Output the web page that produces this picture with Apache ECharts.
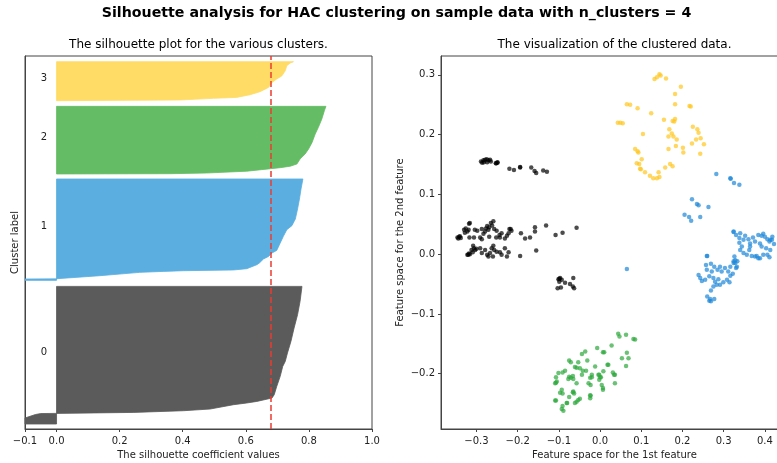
<!DOCTYPE html>
<html><head><meta charset="utf-8">
<script src="https://cdn.jsdelivr.net/npm/echarts@6/dist/echarts.min.js"></script>
<style>html,body{margin:0;padding:0;background:#fff}#c{width:777px;height:463px}</style>
</head><body><div id="c"></div>
<script>
// ---------- data ----------
const mainTitle = 'Silhouette analysis for HAC clustering on sample data with n_clusters = 4';
const leftTitle = 'The silhouette plot for the various clusters.';
const rightTitle = 'The visualization of the clustered data.';
const clusterLabels = ['0', '1', '2', '3'];
const avgSilhouette = 0.683;
const silXTicks = [-0.1, 0.0, 0.2, 0.4, 0.6, 0.8, 1.0];
const featXTicks = [-0.3, -0.2, -0.1, 0.0, 0.1, 0.2, 0.3, 0.4];
const featYTicks = [-0.2, -0.1, 0.0, 0.1, 0.2, 0.3];
const silYMax = 657;

// sorted silhouette profile per cluster: [silhouette value, sample position]
const sil0 = [[-0.1,8.8],[-0.1,19.4],[-0.067,25.5],[-0.05,27.2],[0.0,27.5],[0.243,29.2],[0.402,32.2],[0.487,35.2],[0.561,42.8],[0.603,45.8],[0.635,48.6],[0.683,54.6],[0.690,60.4],[0.698,75.0],[0.709,92.7],[0.717,110.3],[0.725,119.1],[0.732,133.9],[0.743,154.3],[0.753,177.9],[0.764,201.3],[0.772,224.8],[0.778,251.2]];
const sil1 = [[-0.1,261.8],[-0.1,264.2],[0.0,264.7],[0.137,270.0],[0.264,275.9],[0.338,277.6],[0.402,278.8],[0.561,280.1],[0.603,282.4],[0.635,289.4],[0.643,292.4],[0.656,299.5],[0.672,304.0],[0.683,310.0],[0.698,314.6],[0.709,327.6],[0.719,339.3],[0.730,351.1],[0.746,358.1],[0.757,369.9],[0.764,387.5],[0.770,405.1],[0.775,422.8],[0.781,440.4]];
const sil2 = [[0.0,449.2],[0.36,449.7],[0.476,450.9],[0.603,454.1],[0.709,460.3],[0.741,462.9],[0.762,466.8],[0.772,475.6],[0.788,484.4],[0.799,493.2],[0.810,504.8],[0.820,519.6],[0.830,531.3],[0.841,546.1],[0.849,560.7],[0.854,568.3]];
const sil3 = [[0.0,578.3],[0.391,579.5],[0.497,582.4],[0.571,584.1],[0.614,588.9],[0.645,594.2],[0.672,601.7],[0.683,610.5],[0.698,616.5],[0.714,621.9],[0.725,631.1],[0.730,640.0],[0.741,644.7],[0.751,647.0]];

// scatter points per cluster: [1st feature, 2nd feature]
const pts0 = [[-0.289,0.155],[-0.283,0.157],[-0.279,0.158],[-0.275,0.159],[-0.271,0.157],[-0.267,0.158],[-0.274,0.154],[-0.282,0.154],[-0.286,0.153],[-0.265,0.155],[-0.252,0.152],[-0.249,0.154],[-0.253,0.152],[-0.249,0.153],[-0.220,0.143],[-0.209,0.141],[-0.194,0.145],[-0.194,0.146],[-0.167,0.145],[-0.159,0.139],[-0.155,0.136],[-0.138,0.140],[-0.129,0.138],
[-0.346,0.028],[-0.342,0.029],[-0.338,0.027],[-0.344,0.026],[-0.340,0.030],[-0.330,0.041],[-0.326,0.043],[-0.322,0.038],[-0.328,0.036],[-0.318,0.051],[-0.316,0.052],[-0.319,0.041],[-0.304,0.041],[-0.298,0.039],[-0.317,0.028],[-0.306,0.028],[-0.291,0.028],[-0.287,0.042],[-0.277,0.043],[-0.274,0.047],[-0.269,0.045],[-0.271,0.041],[-0.279,0.038],[-0.283,0.034],[-0.287,0.025],[-0.265,0.052],[-0.259,0.055],[-0.262,0.048],[-0.257,0.042],[-0.251,0.039],[-0.252,0.028],[-0.269,0.029],[-0.243,0.028],[-0.239,0.035],[-0.244,0.032],[-0.226,0.031],[-0.220,0.042],[-0.217,0.042],[-0.215,0.039],[-0.192,0.035],[-0.182,0.026],[-0.170,0.028],[-0.158,0.038],[-0.158,0.045],[-0.131,0.048],[-0.108,0.032],[-0.091,0.036],[-0.057,0.044],[-0.222,0.035],[-0.231,0.026],
[-0.320,-0.001],[-0.316,0.000],[-0.312,0.007],[-0.308,0.014],[-0.306,0.010],[-0.303,0.007],[-0.300,0.009],[-0.309,0.003],[-0.291,0.010],[-0.287,0.002],[-0.279,0.007],[-0.274,-0.001],[-0.267,0.002],[-0.263,0.010],[-0.259,0.014],[-0.257,0.007],[-0.271,-0.004],[-0.260,-0.004],[-0.251,0.004],[-0.243,0.003],[-0.239,-0.001],[-0.226,-0.004],[-0.222,0.003],[-0.231,0.010],[-0.194,-0.003],[-0.155,0.006],[-0.322,-0.001],[-0.318,0.001],
[-0.101,-0.042],[-0.097,-0.040],[-0.093,-0.043],[-0.099,-0.046],[-0.103,-0.057],[-0.095,-0.056],[-0.085,-0.048],[-0.073,-0.050],[-0.065,-0.040],[-0.063,-0.057],[-0.066,-0.054],[-0.099,-0.041]];
const pts1 = [[0.282,0.134],[0.316,0.127],[0.317,0.126],[0.325,0.119],[0.338,0.116],[0.223,0.092],[0.235,0.084],[0.239,0.082],[0.263,0.079],[0.205,0.066],[0.216,0.062],[0.221,0.056],[0.243,0.062],[0.260,-0.003],[0.324,0.037],[0.065,-0.025],
[0.324,0.038],[0.330,0.032],[0.340,0.035],[0.338,0.027],[0.348,0.024],[0.352,0.031],[0.360,0.025],[0.364,0.018],[0.371,0.028],[0.376,0.021],[0.384,0.032],[0.392,0.031],[0.396,0.034],[0.400,0.029],[0.406,0.025],[0.411,0.021],[0.388,0.018],[0.392,0.013],[0.403,0.010],[0.413,0.007],[0.406,-0.001],[0.411,-0.005],[0.380,-0.003],[0.384,-0.007],[0.376,-0.004],[0.388,-0.007],[0.368,-0.003],[0.356,-0.001],[0.348,0.002],[0.340,0.007],[0.344,0.013],[0.362,0.007],[0.364,0.013],[0.338,0.019],[0.396,-0.001],[0.326,-0.004],[0.328,-0.010],[0.328,-0.015],[0.324,-0.012],[0.333,-0.012],[0.332,-0.021],[0.413,0.024],[0.417,0.024],[0.422,0.017],[0.418,0.029],
[0.259,-0.003],[0.257,-0.018],[0.269,-0.016],[0.259,-0.026],[0.271,-0.029],[0.277,-0.021],[0.285,-0.026],[0.291,-0.021],[0.295,-0.029],[0.303,-0.023],[0.311,-0.029],[0.316,-0.021],[0.324,-0.015],[0.330,-0.023],[0.239,-0.035],[0.243,-0.040],[0.247,-0.045],[0.255,-0.043],[0.265,-0.037],[0.275,-0.040],[0.279,-0.046],[0.287,-0.042],[0.291,-0.051],[0.299,-0.047],[0.308,-0.043],[0.316,-0.036],[0.322,-0.033],[0.314,-0.047],[0.283,-0.051],[0.275,-0.054],[0.269,-0.061],[0.260,-0.071],[0.265,-0.078],[0.269,-0.079],[0.277,-0.075],[0.267,-0.075]];
const pts2 = [[0.044,-0.133],[0.047,-0.138],[0.028,-0.153],[-0.007,-0.157],[0.007,-0.164],[0.010,-0.164],[-0.036,-0.163],[-0.044,-0.167],[-0.031,-0.178],[-0.075,-0.178],[-0.071,-0.181],[-0.053,-0.181],[-0.061,-0.189],[-0.057,-0.190],[-0.049,-0.191],[-0.042,-0.195],[-0.034,-0.195],[-0.085,-0.195],[-0.091,-0.198],[-0.101,-0.199],[-0.107,-0.206],[-0.105,-0.213],[-0.109,-0.216],[-0.075,-0.205],[-0.071,-0.207],[-0.066,-0.204],[-0.077,-0.209],[-0.065,-0.209],[-0.057,-0.216],[-0.044,-0.202],[-0.024,-0.207],[-0.020,-0.202],[-0.012,-0.188],[-0.002,-0.202],[0.002,-0.206],[-0.002,-0.210],[0.008,-0.196],[0.018,-0.185],[0.031,-0.198],[0.036,-0.202],[0.036,-0.216],[-0.028,-0.216],[-0.023,-0.219],[-0.093,-0.227],[-0.097,-0.232],[-0.107,-0.245],[-0.091,-0.233],[-0.065,-0.230],[-0.066,-0.231],[-0.063,-0.233],[-0.075,-0.239],[-0.080,-0.249],[-0.091,-0.254],[-0.093,-0.259],[-0.089,-0.262],[-0.057,-0.247],[-0.053,-0.244],[-0.049,-0.242],[-0.061,-0.249],[-0.023,-0.237],[-0.024,-0.241],[0.007,-0.227],[0.007,-0.224],
[0.063,-0.135],[0.081,-0.142],[0.085,-0.143],[0.065,-0.165],[0.053,-0.174],[0.069,-0.174],[0.063,-0.187],[0.020,-0.185],[0.034,-0.202],[0.004,-0.219],[0.000,-0.206],[-0.004,-0.202],[-0.020,-0.206],[-0.024,-0.236],[-0.107,-0.215],[-0.109,-0.245],[-0.081,-0.249]];
const pts3 = [[0.043,0.220],[0.049,0.220],[0.055,0.219],[0.065,0.251],[0.073,0.250],[0.091,0.244],[0.104,0.201],[0.085,0.176],[0.091,0.172],[0.093,0.170],[0.089,0.152],[0.095,0.151],[0.101,0.159],[0.097,0.143],[0.099,0.142],[0.109,0.137],[0.121,0.131],[0.129,0.127],[0.138,0.127],[0.144,0.129],[0.142,0.137],[0.158,0.145],[0.170,0.151],[0.176,0.147],[0.124,0.236],[0.132,0.293],[0.138,0.296],[0.144,0.301],[0.147,0.299],[0.160,0.294],[0.196,0.280],[0.182,0.268],[0.182,0.251],[0.155,0.225],[0.182,0.226],[0.180,0.222],[0.217,0.248],[0.220,0.247],[0.168,0.209],[0.174,0.202],[0.166,0.197],[0.178,0.197],[0.186,0.192],[0.184,0.181],[0.166,0.176],[0.201,0.178],[0.202,0.170],[0.225,0.213],[0.236,0.209],[0.239,0.203],[0.244,0.194],[0.233,0.192],[0.223,0.185],[0.252,0.184],[0.243,0.168],[0.176,0.223]];

// ---------- styles ----------
const FONT = 'DejaVu Sans';
const silColors = ['#5b5b5b', '#5aaee0', '#64bd64', '#ffdc66'];
const ptColors = ['#000000', '#1e88d8', '#2ca83c', '#ffc61e'];
const fmt = v => (v < 0 ? '\u2212' : '') + Math.abs(v).toFixed(1);

function silSeries(points, color) {
  return {
    type: 'custom', xAxisIndex: 0, yAxisIndex: 0, data: points, silent: true,
    renderItem: function (params, api) {
      if (params.dataIndex !== 0) return null;
      const poly = [api.coord([0, points[0][1]])];
      points.forEach(p => poly.push(api.coord(p)));
      poly.push(api.coord([0, points[points.length - 1][1]]));
      return { type: 'polygon', shape: { points: poly }, style: { fill: color, stroke: color, lineWidth: 0.8 } };
    }
  };
}
const silAll = [sil0, sil1, sil2, sil3];
const labelData = silAll.map((p, i) => [-0.05, (p[0][1] + p[p.length - 1][1]) / 2, clusterLabels[i]]);

const axisLineStyle = { color: '#444', width: 1 };
const chart = echarts.init(document.getElementById('c'), null, { renderer: 'canvas' });
chart.setOption({
  animation: false,
  backgroundColor: '#fff',
  textStyle: { fontFamily: FONT },
  title: [
    { text: mainTitle, left: 396.5, textAlign: 'center', top: 6, padding: 0,
      textStyle: { fontFamily: FONT, fontSize: 14.2, fontWeight: 'bold', color: '#000' } },
    { text: leftTitle, left: 198.5, textAlign: 'center', top: 39, padding: 0,
      textStyle: { fontFamily: FONT, fontSize: 12, fontWeight: 'normal', color: '#000' } },
    { text: rightTitle, left: 614.5, textAlign: 'center', top: 39, padding: 0,
      textStyle: { fontFamily: FONT, fontSize: 12, fontWeight: 'normal', color: '#000' } }
  ],
  grid: [
    { left: 25, top: 56, width: 347, height: 373, show: true, borderColor: '#444', borderWidth: 1, backgroundColor: 'transparent', outerBoundsMode: 'none', containLabel: false },
    { left: 441, top: 56, width: 347, height: 373, show: true, borderColor: '#444', borderWidth: 1, backgroundColor: 'transparent', outerBoundsMode: 'none', containLabel: false }
  ],
  xAxis: [
    { type: 'value', gridIndex: 0, min: -0.1, max: 1.0,
      name: 'The silhouette coefficient values', nameLocation: 'middle', nameGap: 20,
      nameTextStyle: { fontFamily: FONT, fontSize: 10, color: '#222' },
      axisLine: { show: true, onZero: false, lineStyle: axisLineStyle },
      axisTick: { show: true, length: 3, customValues: silXTicks, lineStyle: axisLineStyle },
      axisLabel: { customValues: silXTicks, formatter: fmt, margin: 7, fontFamily: FONT, fontSize: 10, color: '#222' },
      splitLine: { show: false } },
    { type: 'value', gridIndex: 1, min: -0.386, max: 0.456,
      name: 'Feature space for the 1st feature', nameLocation: 'middle', nameGap: 20,
      nameTextStyle: { fontFamily: FONT, fontSize: 10, color: '#222' },
      axisLine: { show: true, onZero: false, lineStyle: axisLineStyle },
      axisTick: { show: true, length: 3, customValues: featXTicks, lineStyle: axisLineStyle },
      axisLabel: { customValues: featXTicks, formatter: fmt, margin: 7, fontFamily: FONT, fontSize: 10, color: '#222' },
      splitLine: { show: false } }
  ],
  yAxis: [
    { type: 'value', gridIndex: 0, min: 0, max: silYMax,
      name: 'Cluster label', nameLocation: 'middle', nameGap: 5, nameRotate: 90,
      nameTextStyle: { fontFamily: FONT, fontSize: 10, color: '#222' },
      axisLine: { show: true, onZero: false, lineStyle: axisLineStyle },
      axisTick: { show: false }, axisLabel: { show: false }, splitLine: { show: false } },
    { type: 'value', gridIndex: 1, min: -0.2926, max: 0.3316,
      name: 'Feature space for the 2nd feature', nameLocation: 'middle', nameGap: 36, nameRotate: 90,
      nameTextStyle: { fontFamily: FONT, fontSize: 10, color: '#222' },
      axisLine: { show: true, onZero: false, lineStyle: axisLineStyle },
      axisTick: { show: true, length: 3, customValues: featYTicks, lineStyle: axisLineStyle },
      axisLabel: { customValues: featYTicks, formatter: fmt, margin: 6, fontFamily: FONT, fontSize: 10, color: '#222' },
      splitLine: { show: false } }
  ],
  series: [
    silSeries(sil0, silColors[0]),
    silSeries(sil1, silColors[1]),
    silSeries(sil2, silColors[2]),
    silSeries(sil3, silColors[3]),
    { type: 'custom', xAxisIndex: 0, yAxisIndex: 0, data: labelData, silent: true,
      renderItem: function (params, api) {
        const p = api.coord([api.value(0), api.value(1)]);
        return { type: 'text', x: p[0], y: p[1] + 2,
          style: { text: labelData[params.dataIndex][2], fontFamily: FONT, fontSize: 10, fill: '#222', textAlign: 'left', textVerticalAlign: 'bottom' } };
      },
      markLine: { silent: true, symbol: ['none', 'none'], label: { show: false },
        lineStyle: { color: '#ee3b30', width: 1.5, type: [6, 3] },
        data: [{ xAxis: avgSilhouette }] }
    },
    ...[pts0, pts1, pts2, pts3].map((d, i) => ({
      type: 'scatter', xAxisIndex: 1, yAxisIndex: 1, data: d, symbol: 'circle', symbolSize: 4.5,
      itemStyle: { color: ptColors[i], opacity: 0.7 }, silent: true
    }))
  ]
});
</script></body></html>
